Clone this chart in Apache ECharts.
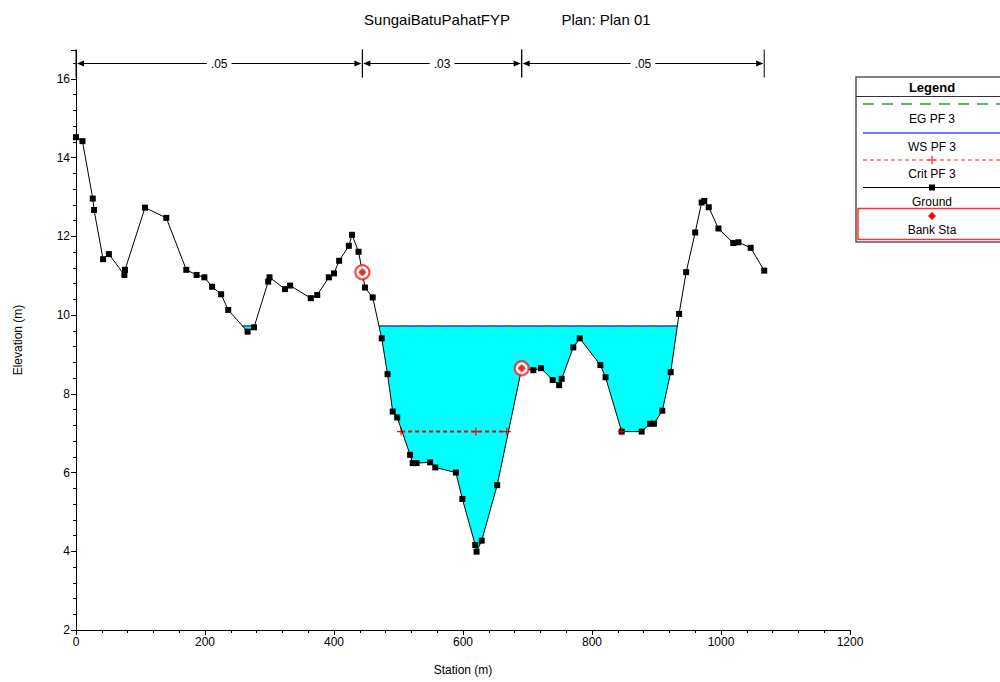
<!DOCTYPE html>
<html><head><meta charset="utf-8">
<script src="https://cdn.jsdelivr.net/npm/echarts/dist/echarts.min.js"></script>
<style>html,body{margin:0;padding:0;background:#fff}#c{width:1000px;height:682px}</style>
</head><body><div id="c"></div>
<script>
// ---------- data ----------
const groundStation = [0,10,26,28,42,51,75,76,107,140,171,187,199,211,225,236,266,276,298,300,324,332,364,374,392,400,408,423,428,438,444,448,460,474,483,491,498,518,522,528,549,557,589,599,619,621,629,653,691,709,721,739,749,753,771,781,813,821,846,877,890,896,909,922,935,946,960,970,974,981,996,1019,1027,1046,1067];
const groundElev = [14.52,14.42,12.96,12.67,11.42,11.55,11.02,11.15,12.73,12.47,11.15,11.02,10.96,10.72,10.53,10.13,9.58,9.69,10.85,10.96,10.66,10.75,10.43,10.51,10.96,11.06,11.38,11.76,12.04,11.61,11.09,10.70,10.45,9.41,8.50,7.55,7.40,6.45,6.24,6.24,6.26,6.13,6.00,5.33,4.16,3.99,4.27,5.68,8.65,8.60,8.65,8.35,8.22,8.38,9.18,9.41,8.73,8.42,7.04,7.04,7.24,7.24,7.57,8.55,10.03,11.09,12.10,12.86,12.90,12.74,12.20,11.83,11.85,11.71,11.13];
const bankStation = [444, 691];
const bankElev = [11.09, 8.65];
const wsElev = 9.72;
const egElev = 9.735;
const wsReachStart = [258, 470];
const wsReachEnd = [277, 932];
const critElev = 7.04;
const critStation = [504, 620, 668];
const critSpotStation = [846];
const nStart = [0, 444, 691];
const nEnd = [444, 691, 1067];
const nValue = ['.05', '.03', '.05'];
const titleLeft = 'SungaiBatuPahatFYP';
const titleRight = 'Plan: Plan 01';

// ---------- derived ----------
const ground = groundStation.map((s, i) => [s, groundElev[i]]);
const banks = bankStation.map((s, i) => [s, bankElev[i]]);
function waterPoly(a, b) {
  const pts = [[a, wsElev]];
  ground.forEach(p => { if (p[0] > a && p[0] < b) pts.push(p); });
  pts.push([b, wsElev]);
  return pts;
}
const waterPolys = wsReachStart.map((a, i) => waterPoly(a, wsReachEnd[i]));
function lineSegs(elev) {
  const out = [];
  wsReachStart.forEach((a, i) => { out.push([a, elev]); out.push([wsReachEnd[i], elev]); out.push([null, null]); });
  return out;
}
const FONT = "'Liberation Sans Narrow','Arial Narrow','Liberation Sans',Arial,sans-serif";
const plusPath = 'path://M-0.6,-4H0.6V-0.6H4V0.6H0.6V4H-0.6V0.6H-4V-0.6H-0.6Z';
function plusPts(cx, cy, r, w) {
  return [[cx - w, cy - r], [cx + w, cy - r], [cx + w, cy - w], [cx + r, cy - w], [cx + r, cy + w], [cx + w, cy + w],
          [cx + w, cy + r], [cx - w, cy + r], [cx - w, cy + w], [cx - r, cy + w], [cx - r, cy - w], [cx - w, cy - w]];
}

const chart = echarts.init(document.getElementById('c'), null, {renderer: 'svg'});

const legendX = 856, legendW = 152;
const legendGraphics = [
  {type:'rect', shape:{x:legendX, y:77, width:legendW, height:165}, style:{fill:'#fff', stroke:'#555', lineWidth:1.5}},
  {type:'text', style:{text:'Legend', x:932, y:87, align:'center', verticalAlign:'middle', font:"bold 13px "+FONT, fill:'#000'}},
  {type:'line', shape:{x1:legendX, y1:96.5, x2:1000, y2:96.5}, style:{stroke:'#333', lineWidth:1}},
  {type:'line', shape:{x1:863, y1:104, x2:1000, y2:104}, style:{stroke:'#2e9e2e', lineWidth:1.5, lineDash:[11,8]}},
  {type:'text', style:{text:'EG PF 3', x:932, y:119, align:'center', verticalAlign:'middle', font:"12px "+FONT, fill:'#000'}},
  {type:'line', shape:{x1:863, y1:133, x2:1000, y2:133}, style:{stroke:'#4444ff', lineWidth:1.5}},
  {type:'text', style:{text:'WS PF 3', x:932, y:147, align:'center', verticalAlign:'middle', font:"12px "+FONT, fill:'#000'}},
  {type:'line', shape:{x1:863, y1:160, x2:1000, y2:160}, style:{stroke:'#ff2020', lineWidth:1.2, lineDash:[4,3]}},
  {type:'polygon', shape:{points: plusPts(932, 160, 4, 0.6)}, style:{fill:'#ff2020'}},
  {type:'text', style:{text:'Crit PF 3', x:932, y:174, align:'center', verticalAlign:'middle', font:"12px "+FONT, fill:'#000'}},
  {type:'line', shape:{x1:863, y1:187.5, x2:1000, y2:187.5}, style:{stroke:'#000', lineWidth:1}},
  {type:'rect', shape:{x:929, y:184.5, width:6, height:6}, style:{fill:'#000'}},
  {type:'text', style:{text:'Ground', x:932, y:202, align:'center', verticalAlign:'middle', font:"12px "+FONT, fill:'#000'}},
  {type:'rect', shape:{x:858, y:208.5, width:150, height:31}, style:{fill:'none', stroke:'#ff3030', lineWidth:1.5}},
  {type:'polygon', shape:{points:[[932,212],[936,216],[932,220],[928,216]]}, style:{fill:'#ff0000'}},
  {type:'text', style:{text:'Bank Sta', x:932, y:229.5, align:'center', verticalAlign:'middle', font:"12px "+FONT, fill:'#000'}},
  {type:'text', style:{text:titleLeft, x:437, y:19, align:'center', verticalAlign:'middle', font:"15px "+FONT, fill:'#000'}},
  {type:'text', style:{text:titleRight, x:606, y:19, align:'center', verticalAlign:'middle', font:"15px "+FONT, fill:'#000'}}
];

const option = {
  animation: false,
  backgroundColor: '#fff',
  textStyle: {fontFamily: FONT},
  grid: {left: 76, right: 150, top: 50, bottom: 52},
  xAxis: {
    type: 'value', min: 0, max: 1200, interval: 200,
    name: 'Station (m)', nameLocation: 'middle', nameGap: 34,
    nameTextStyle: {fontSize: 12, color: '#000', fontFamily: FONT},
    axisLine: {show: true, onZero: false, lineStyle: {color: '#000', width: 1}},
    axisTick: {show: true, length: 5, lineStyle: {color: '#000'}},
    minorTick: {show: true, splitNumber: 5, length: 3, lineStyle: {color: '#000'}},
    axisLabel: {color: '#000', fontSize: 12, margin: 6, fontFamily: FONT, formatter: v => String(v)},
    splitLine: {show: false}
  },
  yAxis: {
    type: 'value', min: 2, max: 16.735, interval: 2,
    name: 'Elevation (m)', nameLocation: 'middle', nameGap: 52,
    nameTextStyle: {fontSize: 12, color: '#000', fontFamily: FONT},
    axisLine: {show: true, onZero: false, lineStyle: {color: '#000', width: 1}},
    axisTick: {show: true, length: 5, lineStyle: {color: '#000'}},
    minorTick: {show: true, splitNumber: 5, length: 3, lineStyle: {color: '#000'}},
    axisLabel: {color: '#000', fontSize: 12, margin: 6, fontFamily: FONT,
      formatter: v => (Math.abs(v / 2 - Math.round(v / 2)) < 1e-6 ? String(v) : '')},
    splitLine: {show: false}
  },
  graphic: legendGraphics,
  series: [
    {
      type: 'custom', name: 'water', silent: true, z: 1,
      data: waterPolys.map((p, i) => i),
      renderItem: (params, api) => {
        const pts = waterPolys[params.dataIndex].map(p => api.coord(p));
        return {type: 'polygon', shape: {points: pts}, style: {fill: '#00ffff'}};
      }
    },
    {
      type: 'line', name: 'WS PF 3', data: lineSegs(wsElev), connectNulls: false,
      symbol: 'none', lineStyle: {color: '#3030ff', width: 1.5}, z: 3
    },
    {
      type: 'line', name: 'EG PF 3', data: lineSegs(egElev), connectNulls: false,
      symbol: 'none', lineStyle: {color: '#2e9e2e', width: 1.2, type: [10, 8]}, z: 4
    },
    {
      type: 'line', name: 'Crit PF 3', data: critStation.map(s => [s, critElev]),
      symbol: plusPath, symbolSize: 8, showAllSymbol: true,
      itemStyle: {color: '#ff0000'},
      lineStyle: {color: '#ff0000', width: 2, type: [4, 3]}, z: 5
    },
    {
      type: 'line', name: 'Ground', data: ground,
      symbol: 'rect', symbolSize: 6, showAllSymbol: true,
      itemStyle: {color: '#000'}, lineStyle: {color: '#000', width: 1}, z: 6
    },
    {
      type: 'scatter', name: 'Crit spot', data: critSpotStation.map(s => [s, critElev]),
      symbol: plusPath, symbolSize: 8, itemStyle: {color: '#ff0000'}, z: 7
    },
    {
      type: 'scatter', name: 'Bank ring', data: banks,
      symbol: 'circle', symbolSize: 14,
      itemStyle: {color: '#fff', borderColor: '#ff1a1a', borderWidth: 2.2}, z: 8
    },
    {
      type: 'scatter', name: 'Bank Sta', data: banks,
      symbol: 'diamond', symbolSize: 8, itemStyle: {color: '#ff0000'}, z: 9
    },
    {
      type: 'custom', name: 'n values', silent: true, z: 10, clip: false,
      data: nValue.map((v, i) => i),
      renderItem: (params, api) => {
        const i = params.dataIndex;
        const a = api.coord([nStart[i], 16.41]);
        const b = api.coord([nEnd[i], 16.41]);
        const y = Math.round(a[1]) + 0.5;
        const x0 = a[0], x1 = b[0];
        return {
          type: 'group',
          children: [
            {type: 'line', shape: {x1: x0 + 2, y1: y, x2: x1 - 2, y2: y}, style: {stroke: '#000', lineWidth: 1}},
            {type: 'polygon', shape: {points: [[x0 + 1, y], [x0 + 8, y - 3], [x0 + 8, y + 3]]}, style: {fill: '#000'}},
            {type: 'polygon', shape: {points: [[x1 - 1, y], [x1 - 8, y - 3], [x1 - 8, y + 3]]}, style: {fill: '#000'}},
            {type: 'line', shape: {x1: x0, y1: y - 14, x2: x0, y2: y + 14}, style: {stroke: '#000', lineWidth: 1}},
            {type: 'line', shape: {x1: x1, y1: y - 14, x2: x1, y2: y + 14}, style: {stroke: '#000', lineWidth: 1}},
            {type: 'text', style: {text: nValue[i], x: (x0 + x1) / 2, y: y, align: 'center', verticalAlign: 'middle',
              font: '12px ' + FONT, fill: '#000', backgroundColor: '#fff', padding: [0, 4]}}
          ]
        };
      }
    }
  ]
};
chart.setOption(option);
</script>
</body></html>
